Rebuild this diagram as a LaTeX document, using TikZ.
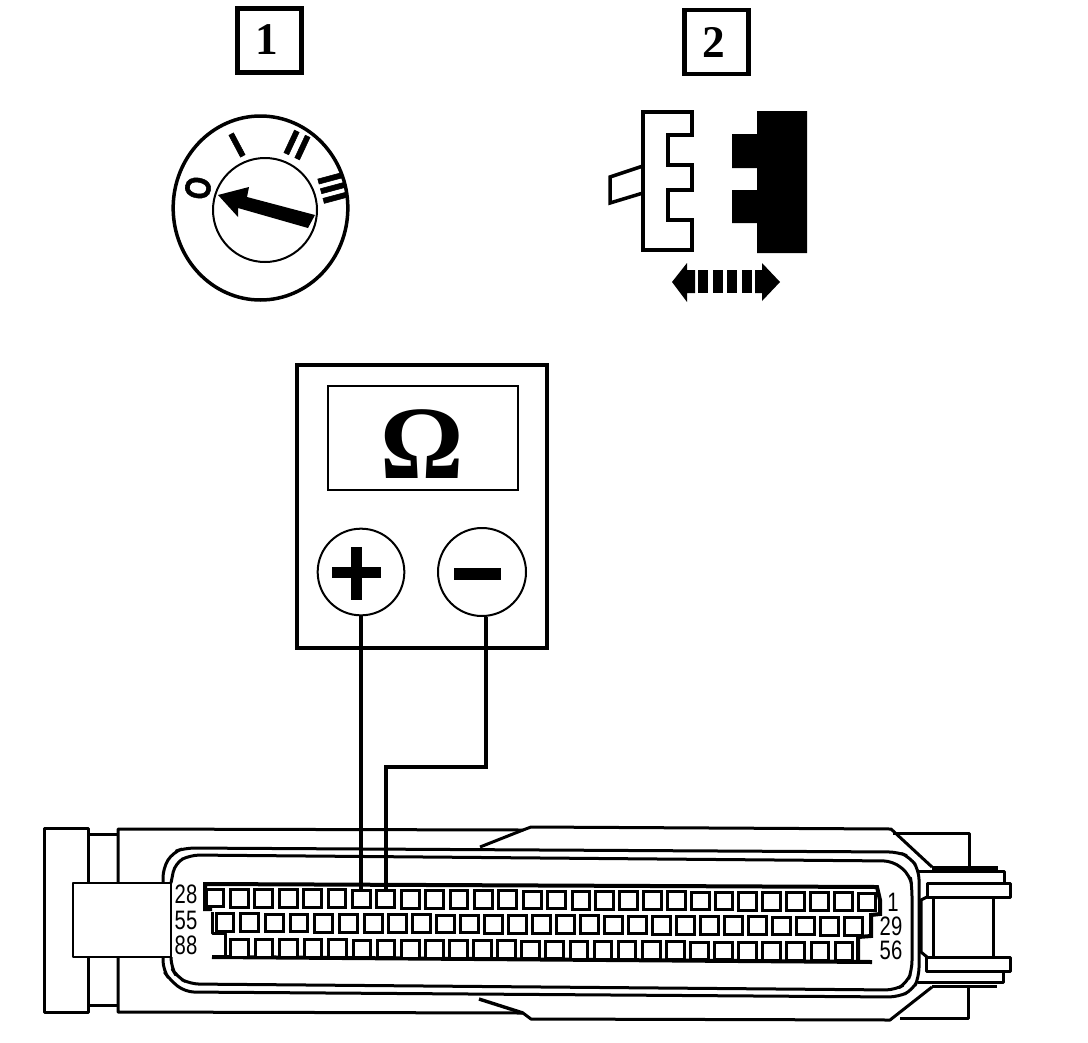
\documentclass[tikz,border=0pt]{standalone}
\usepackage{fontspec}
\setmainfont{Liberation Serif}
\newfontfamily\pinfont{Liberation Sans}
\newfontfamily\markfont[FakeBold=1.5]{Liberation Sans Bold}
\usetikzlibrary{shapes.geometric,calc}
\tikzset{
  px/.style={line width=#1*0.75pt},
  numbox/.style={draw,px=4.5,minimum size=48pt,inner sep=0pt,font=\bfseries\fontsize{34}{34}\selectfont},
  dialmark/.style={inner sep=0pt,font=\markfont\fontsize{27}{27}\selectfont},
  termcircle/.style={circle,draw,px=2,minimum size=65pt,inner sep=0pt},
  pinbox/.style={draw,px=3,minimum size=13.3pt,inner sep=0pt,fill=white},
  pinlabel/.style={inner sep=0pt,transform shape,xscale=0.76,font=\pinfont\fontsize{20}{20}\selectfont},
  wire/.style={px=4},
  body/.style={px=3,line join=round},
  heavy/.style={px=4,line join=miter},
}
\begin{document}
\begin{tikzpicture}[x=0.75pt,y=-0.75pt]
\useasboundingbox (0,0) rectangle (1088,1042);
\fill[white] (0,0) rectangle (1088,1042);

% numbered boxes
\node[numbox] (boxone) at (269.5,40.5) {\raisebox{1.5pt}{1\kern 3.5pt}};
\node[numbox] (boxtwo) at (716.5,42) {\raisebox{0pt}{2\kern 3.5pt}};

% key dial
\node[ellipse,draw,px=3.5,minimum width=131pt,minimum height=138pt,inner sep=0pt] (dial) at (260.5,208) {};
\node[circle,draw,px=2,minimum size=78pt,inner sep=0pt] (dialinner) at (265,210) {};
\fill (218,195) -- (249,187) -- (247,197) -- (315,215) -- (308,228) -- (238,208) -- (238,217) -- cycle;
\node[dialmark,rotate=80,transform shape,xscale=.8] (markO) at (198,188) {O};
\node[dialmark,rotate=28] (markI) at (237,145) {I};
\node[dialmark,rotate=-25] (markII) at (297,145) {I\kern 1.5pt I};
\node[dialmark,rotate=-75] (markIII) at (333,188) {III};

% latch, white part
\draw[px=3.5,fill=white,line join=miter] (643,166) -- (610,177) -- (610,203) -- (643,193);
\draw[px=3.8,fill=white,line join=miter] (643,112) -- (692,112) -- (692,135) -- (668,135) -- (668,165) -- (692,165) -- (692,190) -- (668,190) -- (668,220) -- (692,220) -- (692,250) -- (643,250) -- cycle;
% latch, black part
\fill (757,111) -- (807,111) -- (807,253) -- (757,253) -- (757,223) -- (732,223) -- (732,190) -- (757,190) -- (757,168) -- (732,168) -- (732,134) -- (757,134) -- cycle;
% double arrow
\fill (672,282) -- (687,263) -- (687,270) -- (695,270) -- (695,293) -- (687,293) -- (687,302) -- cycle;
\fill (698,270) rectangle (708,293);
\fill (713,270) rectangle (723,293);
\fill (727,270) rectangle (737,293);
\fill (742,270) rectangle (752,293);
\fill (755,270) -- (762,270) -- (762,263) -- (780,282) -- (762,301) -- (762,293) -- (755,293) -- cycle;

% meter
\draw[px=4] (297,365) rectangle (547,648);
\draw[px=2.4] (328,386) rectangle (518,490);
\node[inner sep=0pt,font=\bfseries\fontsize{78}{78}\selectfont] (omega) at (422,444) {Ω};
\node[termcircle] (plus) at (361,572) {};
\node[termcircle,minimum size=66pt] (minus) at (482,572) {};
\fill (332,567) rectangle (381,578);
\fill (351,547) rectangle (362,600);
\fill (454,568) rectangle (501,580);

% connector body
\draw[body] (44,828) rectangle (88,1012);
\draw[body] (88,834) -- (118,834);
\draw[body] (88,1005) -- (118,1005);
\draw[body] (118,883) -- (118,829) -- (523,830) -- (531,827) -- (891,829) -- (932,867);
\draw[body] (118,957) -- (118,1012) -- (523,1013) -- (531,1019) -- (890,1020) -- (932,987);
\draw[body] (480,847) -- (523,830);
\draw[body,px=3.4] (479,999) -- (523,1013);
\draw[body] (893,833) -- (969,833) -- (969,866);
\draw[body] (900,1018) -- (968,1018) -- (968,987);

% rounded walls
\draw[body,rounded corners=7pt] (163,883) -- (163,868) -- (173,852) -- (185,848) -- (898,852) -- (910,857) -- (919,870) -- (919,977) -- (913,990) -- (898,997) -- (185,992) -- (170,980) -- (163,970) -- (163,957);
\draw[body,rounded corners=7pt] (171,883) -- (175,863) -- (190,855) -- (893,861) -- (910,875) -- (912,887) -- (912,970) -- (907,983) -- (895,990) -- (190,984) -- (177,977) -- (171,967) -- (171,957);

% plug
\draw[body,px=2.4,fill=white] (73,883) rectangle (171,957);

% right hinge
\draw[px=4.5] (932,868) -- (998,868);
\draw[body] (918,871) -- (1004,871) -- (1004,883);
\draw[body] (918,982) -- (1003,982) -- (1003,971);
\draw[body] (932,986) -- (997,986);
\draw[body] (927,897) -- (921,900) -- (921,952) -- (927,957);
\draw[body] (933,897) -- (933,957);
\draw[body] (993,897) -- (993,957);
\draw[body,fill=white] (927,883) rectangle (1010,897);
\draw[body,fill=white] (926,957) rectangle (1010,971);

% pin frames
\draw[heavy] (212,909) -- (205,909) -- (205,884) -- (877,887) -- (880,900) -- (880,914) -- (871,915) -- (871,936) -- (858,937) -- (858,961);
\draw[body] (225,958) -- (225,933) -- (212,933) -- (212,912);
\draw[heavy] (212,957) -- (872,962);

% pins
\foreach \i in {1,...,28}{
  \pgfmathsetmacro{\xx}{215+24.4*min(\i-1,15)+23.83*max(\i-16,0)}
  \pgfmathsetmacro{\yy}{898+(\xx-205)*0.006}
  \node[pinbox] (a\i) at (\xx,\yy) {};
}
\foreach \i in {1,...,27}{
  \pgfmathsetmacro{\xx}{225+24.7*min(\i-1,6)+24.03*max(\i-7,0)}
  \pgfmathsetmacro{\yy}{922.5+(\xx-205)*0.006}
  \node[pinbox] (b\i) at (\xx,\yy) {};
}
\foreach \i in {1,...,26}{
  \pgfmathsetmacro{\xx}{239.5+24.5*min(\i-1,5)+24.1*max(\i-6,0)}
  \pgfmathsetmacro{\yy}{948+(\xx-205)*0.006}
  \node[pinbox] (c\i) at (\xx,\yy) {};
}

% pin labels
\node[pinlabel] (l28) at (186,894.5) {28};
\node[pinlabel] (l55) at (186,920) {55};
\node[pinlabel] (l88) at (186,945) {88};
\node[pinlabel] (l1) at (893,902) {1};
\node[pinlabel] (l29) at (891,926) {29};
\node[pinlabel] (l56) at (891,950) {56};

% wires
\coordinate (bendb) at ($(a8.north |- 0,767)$);
\draw[wire] (plus.south) -- (plus.south |- a7.north);
\draw[wire,line join=miter] (minus.-85) -- (minus.-85 |- bendb) -- (bendb) -- (a8.north);
\end{tikzpicture}
\end{document}
